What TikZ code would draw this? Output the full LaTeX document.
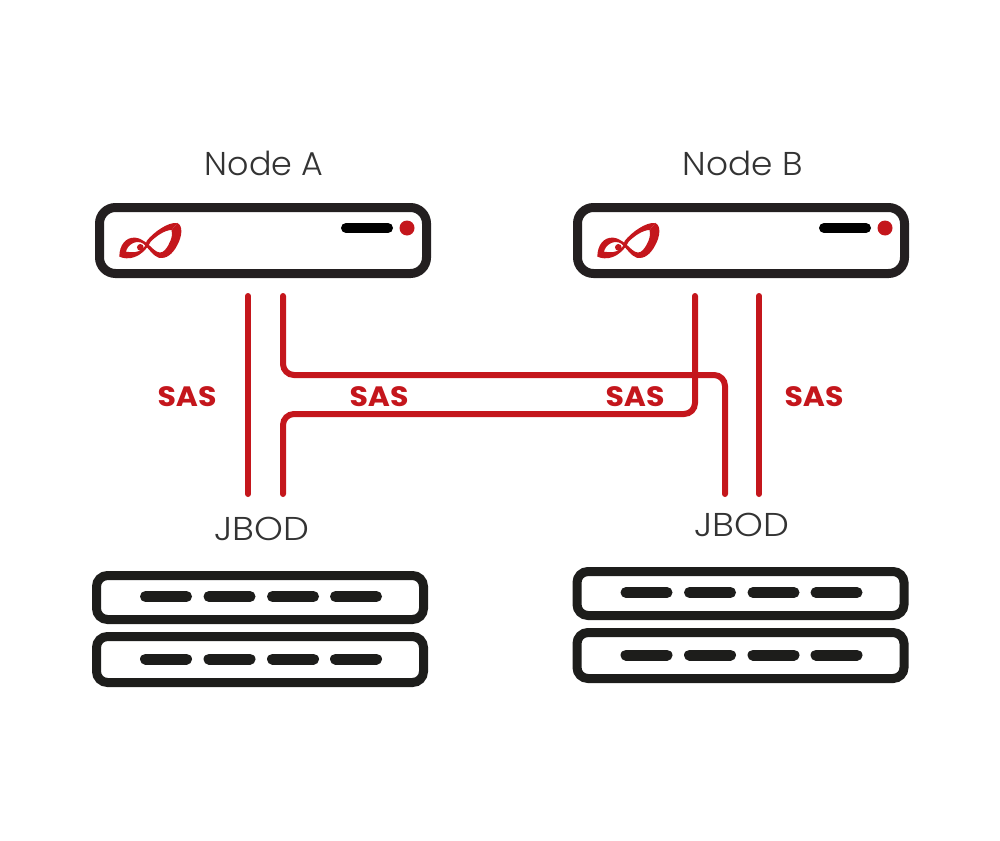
\documentclass[tikz,border=0pt]{standalone}
\usepackage{fontspec}
\setmainfont{Poppins}[UprightFont=* Light,BoldFont=* Bold]
\definecolor{sasred}{HTML}{C4161C}
\definecolor{inkdark}{HTML}{231F20}
\definecolor{jbodink}{HTML}{1D1D1B}
\definecolor{labelink}{HTML}{333333}
\tikzset{
  nodecase/.style={draw=inkdark,line width=9pt,rounded corners=16pt,fill=white},
  jbodcase/.style={draw=jbodink,line width=9pt,rounded corners=11pt,fill=white},
  slotbar/.style={draw=jbodink,line width=11pt,line cap=round},
  statusbar/.style={draw=black,line width=10pt,line cap=round},
  saswire/.style={draw=sasred,line width=6pt,line cap=round,rounded corners=11pt},
  title/.style={text=labelink,font=\fontsize{33}{33}\selectfont,inner sep=0pt,anchor=center},
  saslabel/.style={text=sasred,font=\fontsize{28}{28}\selectfont\bfseries,inner sep=0pt,anchor=center},
  pics/server/.style={code={
    \draw[nodecase] (0,0) rectangle (327,66);
    \draw[statusbar] (246.5,20.5) -- (288.5,20.5);
    \fill[sasred] (307.5,20.5) circle (7.5);
    \begin{scope}[shift={(-9.5,-12.5)},x=0.3333pt,y=-0.3333pt]
      \fill[sasred]
        (88,185) .. controls (88,150) and (108,126) .. (135,128)
        .. controls (158,130) and (172,146) .. (192,164)
        .. controls (204,174) and (214,176) .. (224,166)
        .. controls (238,150) and (250,125) .. (245,105)
        -- (262,84)
        .. controls (280,92) and (276,125) .. (262,150)
        .. controls (248,178) and (228,192) .. (208,189)
        .. controls (190,184) and (176,160) .. (160,146)
        .. controls (138,132) and (112,150) .. (108,170)
        .. controls (105,178) and (95,183) .. (88,185) -- cycle;
      \fill[sasred]
        (88,185) .. controls (112,196) and (155,192) .. (182,140)
        .. controls (200,122) and (225,105) .. (245,105)
        -- (262,84)
        .. controls (235,80) and (190,112) .. (170,138)
        .. controls (168,158) and (150,178) .. (108,170) -- cycle;
      \fill[sasred] (151,157) circle (10);
    \end{scope}
  }},
  pics/jbod/.style={code={
    \draw[jbodcase] (4.5,4.5) rectangle (331.5,48.5);
    \draw[jbodcase] (4.5,65.5) rectangle (331.5,111.5);
    \foreach \yy in {25.5,88} \foreach \xx in {53.5,117,180.5,243.5}
      \draw[slotbar] (\xx,\yy) -- ++(41,0);
  }}
}
\begin{document}
\begin{tikzpicture}[x=1pt,y=-1pt]
\useasboundingbox (0,0) rectangle (1000,840);
\pic at (99.5,207.5) {server};
\pic at (577.5,207.5) {server};
\pic at (92,571) {jbod};
\pic at (572.5,567) {jbod};
\node[title] (nodeA) at (264,163) {\scalebox{1.01}[1]{Node A}};
\node[title] (nodeB) at (742.5,163) {\scalebox{1.04}[1]{Node B}};
\node[title] (jbodA) at (261.5,529) {\scalebox{1.11}[1]{JBOD}};
\node[title] (jbodB) at (741.5,525) {\scalebox{1.11}[1]{JBOD}};
\coordinate (a1) at (248,296);
\coordinate (a2) at (283,296);
\coordinate (b1) at (695,296);
\coordinate (b2) at (759,296);
\coordinate (c1) at (248,494);
\coordinate (c2) at (283,494);
\coordinate (d1) at (725,494);
\coordinate (d2) at (759,494);
\draw[saswire] (a1) -- (c1);
\draw[saswire] (b2) -- (d2);
\draw[saswire] (a2) |- (725,375) -- (d1);
\draw[saswire] (c2) |- (695,414) -- (b1);
\node[saslabel] (s1) at (187,397) {\scalebox{1.07}[1]{SAS}};
\node[saslabel] (s2) at (379,397) {\scalebox{1.07}[1]{SAS}};
\node[saslabel] (s3) at (635,397) {\scalebox{1.07}[1]{SAS}};
\node[saslabel] (s4) at (814,397) {\scalebox{1.07}[1]{SAS}};
\end{tikzpicture}
\end{document}
